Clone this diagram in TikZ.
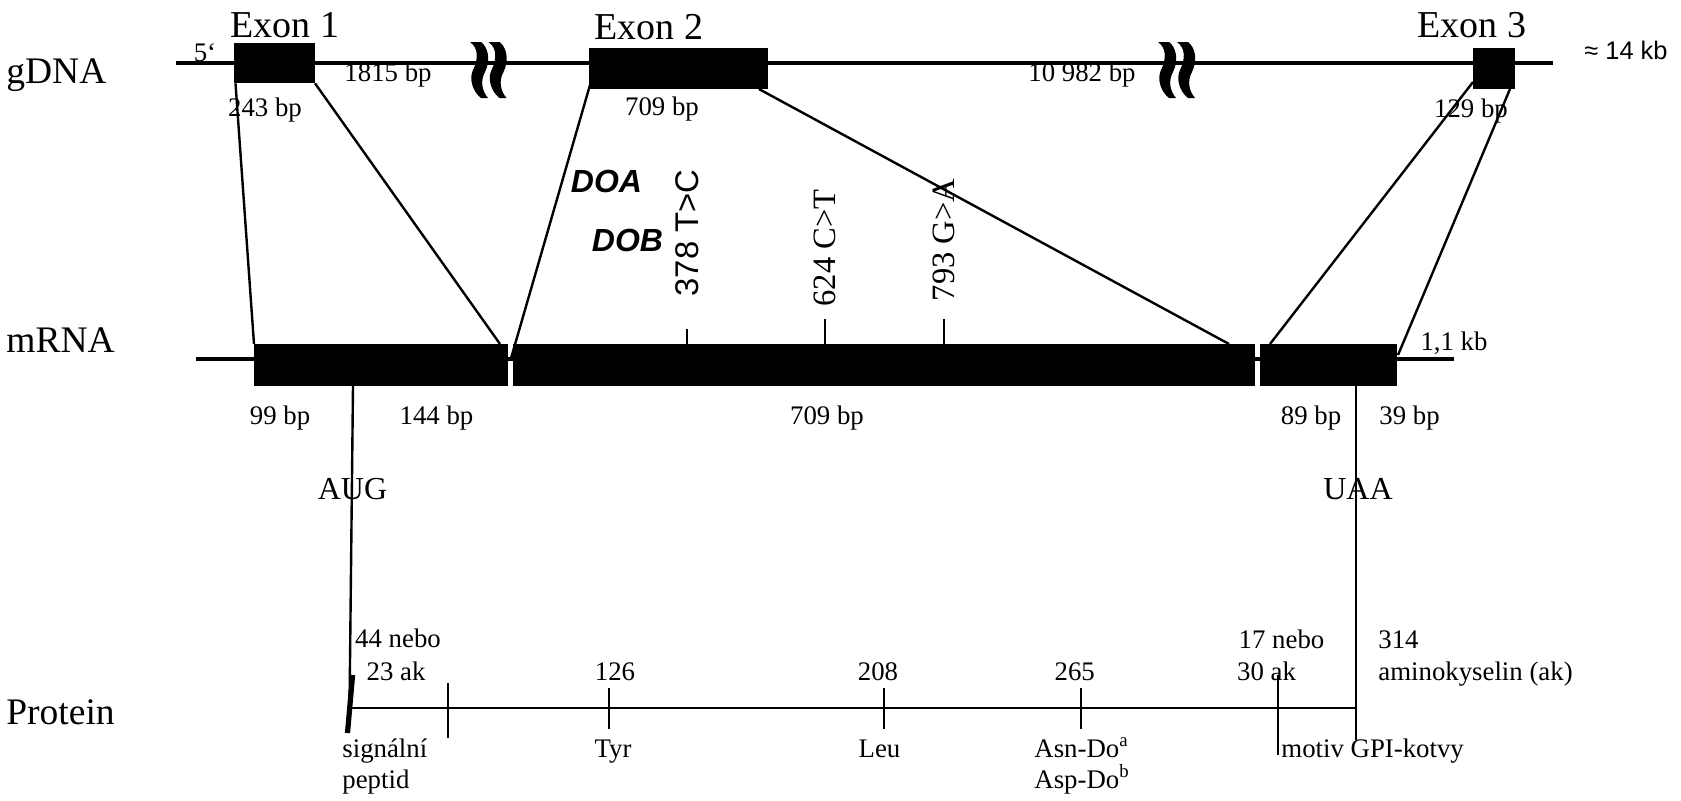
\documentclass[tikz,border=0pt]{standalone}
\usepackage{fontspec}
\setmainfont{Liberation Serif}
\newfontfamily\hsans{Liberation Sans}
\tikzset{
  x=0.5pt,y=-0.5pt,
  blk/.style={fill=black,draw=none,inner sep=0pt,outer sep=0pt,anchor=north west},
  big/.style={inner sep=0pt,anchor=base west,font=\fontsize{18.75pt}{19pt}\selectfont},
  exon/.style={inner sep=0pt,anchor=base,font=\fontsize{19pt}{19pt}\selectfont},
  codon/.style={inner sep=0pt,anchor=base,font=\fontsize{16pt}{16pt}\selectfont},
  lab/.style={inner sep=0pt,anchor=base,font=\fontsize{13.4pt}{14pt}\selectfont},
  labl/.style={lab,anchor=base west},
  vert/.style={inner sep=0pt,rotate=90,font=\fontsize{16.3pt}{16pt}\selectfont},
  vertsans/.style={inner sep=0pt,rotate=90,font=\hsans\fontsize{16.4pt}{16pt}\selectfont},
  sanslab/.style={inner sep=0pt,font=\hsans\bfseries\itshape\fontsize{16pt}{16pt}\selectfont},
  conn/.style={line width=1.2pt},
  back/.style={line width=1.8pt},
  tick/.style={line width=1.1pt},
  squig/.pic={\fill (0,0) .. controls (8.5,6) and (8.5,17) .. (3,28) .. controls (-1,36) and (2,49) .. (11,56) -- (18,56) .. controls (12,49) and (10,39) .. (15,30) .. controls (21,18) and (18,5) .. (11,0) -- cycle;}
}
\begin{document}
\begin{tikzpicture}
\useasboundingbox (0,0) rectangle (1681,800);
% gDNA
\coordinate (g0) at (176,63); \coordinate (g1) at (1553,63);
\draw[back] (g0) -- (g1);
\node[blk,minimum width=40.5pt,minimum height=20pt] (e1) at (234,43.3) {};
\node[blk,minimum width=89.5pt,minimum height=20.5pt] (e2) at (588.7,48) {};
\node[blk,minimum width=21pt,minimum height=20.5pt] (e3) at (1473,48) {};
\pic at (470,42) {squig}; \pic at (488.5,42) {squig};
\pic at (1158,42) {squig}; \pic at (1177,42) {squig};
% mRNA
\coordinate (m0) at (196,359); \coordinate (m1) at (1454,359);
\draw[back] (m0) -- (m1);
\node[blk,minimum width=126.85pt,minimum height=21pt] (r1) at (254,344) {};
\node[blk,minimum width=371.15pt,minimum height=21pt] (r2) at (512.7,344) {};
\node[blk,minimum width=68.5pt,minimum height=21pt] (r3) at (1260,344) {};
% exon to mRNA connectors
\draw[conn] ([xshift=0.75pt]e1.south west) -- (r1.north west);
\draw[conn] (e1.south east) -- ([xshift=-3.85pt]r1.north east);
\draw[conn] ([xshift=0.65pt,yshift=2pt]e2.south west) -- ([xshift=-1.1pt,yshift=-8pt]r2.north west);
\draw[conn] ([xshift=-4.4pt]e2.south east) -- ([xshift=-13pt]r2.north east);
\draw[conn] ([yshift=3.5pt]e3.south west) -- ([xshift=5pt]r3.north west);
\draw[conn] ([xshift=-2.5pt]e3.south east) -- ([xshift=0.5pt,yshift=-5.5pt]r3.north east);
% mutation ticks
\path (687,329) coordinate (t1a) (687,345) coordinate (t1b)
      (825,319) coordinate (t2a) (825,345) coordinate (t2b)
      (944,319) coordinate (t3a) (944,345) coordinate (t3b);
\draw[tick] (t1a) -- (t1b); \draw[tick] (t2a) -- (t2b); \draw[tick] (t3a) -- (t3b);
% protein
\path (353,386) coordinate (aug) (349.5,708) coordinate (augb)
      (1356,386) coordinate (uaa) (1356,740) coordinate (uaab)
      (350,708) coordinate (p0) (1356,708) coordinate (p1)
      (352.6,675) coordinate (s0) (347.5,733) coordinate (s1);
\draw[conn] (aug) -- (augb);
\draw[conn] (uaa) -- (uaab);
\draw[conn] (p0) -- (p1);
\draw[line width=2.6pt] (s0) -- (s1);
\path (448,683) coordinate (a1) (448,738) coordinate (a2)
      (609.3,688) coordinate (b1) (609.3,729) coordinate (b2)
      (884,688) coordinate (c1) (884,729) coordinate (c2)
      (1080.7,688) coordinate (d1) (1080.7,729) coordinate (d2)
      (1278,675) coordinate (f1) (1278,755) coordinate (f2);
\draw[tick] (a1) -- (a2); \draw[tick] (b1) -- (b2); \draw[tick] (c1) -- (c2);
\draw[tick] (d1) -- (d2); \draw[tick] (f1) -- (f2);
% row labels
\node[big] (lg) at (6,83) {gDNA};
\node[big] (lm) at (6,352.7) {mRNA};
\node[big] (lp) at (6,724) {Protein};
\node[exon] (x1) at (285,37) {Exon 1};
\node[exon] (x2) at (648.8,39) {Exon 2};
\node[exon] (x3) at (1472,37) {Exon 3};
\node[lab] (n5) at (205,61.7) {5‘};
\node[lab] (n1) at (388,81.7) {1815 bp};
\node[lab] (n2) at (1082,81.7) {10 982 bp};
\node[lab] (n3) at (265,116.7) {243 bp};
\node[lab] (n4) at (662,115) {709 bp};
\node[lab] (n6) at (1471,117) {129 bp};
\node[inner sep=0pt,anchor=base,font=\hsans\fontsize{12.7pt}{13pt}\selectfont] (n7) at (1626,59) {≈ 14 kb};
\node[sanslab] (doa) at (606.5,181) {DOA};
\node[sanslab] (dob) at (627.5,240) {DOB};
\node[vertsans] (k1) at (687,233) {378 T>C};
\node[vert] (k2) at (825,248) {624 C>T};
\node[vert] (k3) at (944,240) {793 G>A};
\node[lab] (q0) at (1454,350.7) {1,1 kb};
\node[lab] (q1) at (280,424) {99 bp};
\node[lab] (q2) at (436.5,424) {144 bp};
\node[lab] (q3) at (827,424) {709 bp};
\node[lab] (q4) at (1311,424) {89 bp};
\node[lab] (q5) at (1409.5,424) {39 bp};
\node[codon] (au) at (352.5,499) {AUG};
\node[codon] (ua) at (1358,499) {UAA};
\node[lab] (w1) at (398,647.5) {44 nebo};
\node[lab] (w2) at (396,680) {23 ak};
\node[lab] (w3) at (615,680) {126};
\node[lab] (w4) at (878,680) {208};
\node[lab] (w5) at (1074.7,680) {265};
\node[lab] (w6) at (1281.5,648) {17 nebo};
\node[lab] (w7) at (1266.5,680) {30 ak};
\node[labl] (w8) at (1378,648) {314};
\node[labl] (w9) at (1378,680) {aminokyselin (ak)};
\node[labl] (v1) at (342,757) {signální};
\node[labl] (v2) at (342,788) {peptid};
\node[lab] (v3) at (613,757) {Tyr};
\node[lab] (v4) at (879.5,757) {Leu};
\node[labl] (v5) at (1034,757) {Asn-Do\textsuperscript{a}};
\node[labl] (v6) at (1034,788) {Asp-Do\textsuperscript{b}};
\node[labl] (v7) at (1281,757) {motiv GPI-kotvy};
\end{tikzpicture}
\end{document}
